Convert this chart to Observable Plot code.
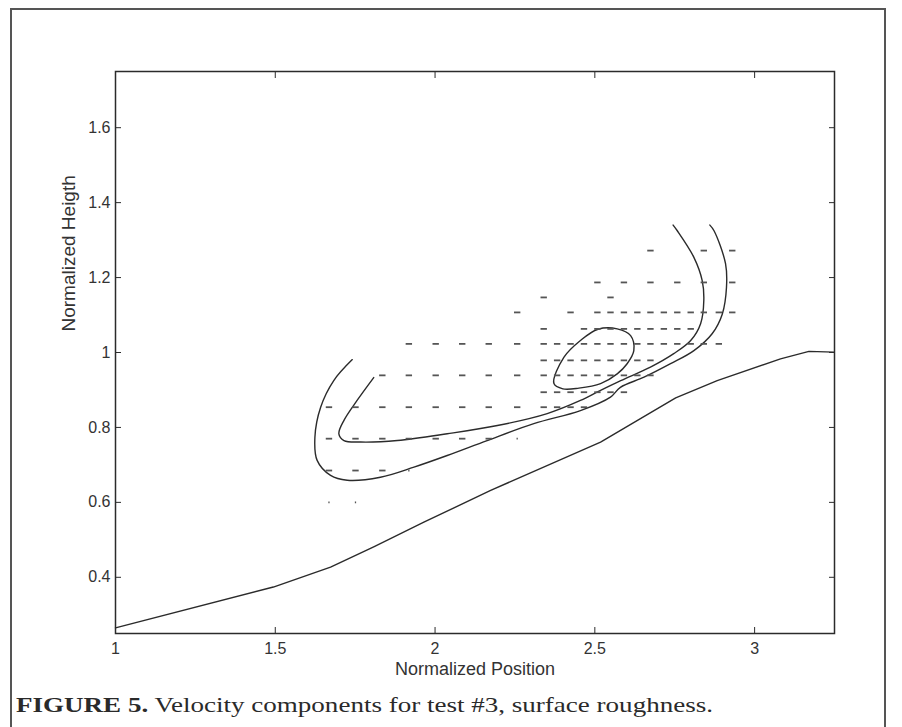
<!DOCTYPE html>
<html><head><meta charset="utf-8">
<script src="https://cdn.jsdelivr.net/npm/d3@7"></script>
<script src="https://cdn.jsdelivr.net/npm/@observablehq/plot@0.6"></script>
<style>
body{margin:0;background:#fff;}
#wrap{position:relative;width:902px;height:727px;overflow:hidden;background:#fff;}
#border{position:absolute;left:10px;top:8px;width:876px;height:780px;border:2px solid #555;box-sizing:border-box;}
#chart{position:absolute;left:0;top:0;}
#caption{position:absolute;left:16px;top:692px;line-height:26px;font-family:"Liberation Serif","Times New Roman",serif;font-size:22px;color:#2a2a2a;white-space:nowrap;transform-origin:left center;}
</style></head><body>
<div id="wrap"><div id="border"></div><div id="chart"></div>
<div id="caption"><b>FIGURE 5.</b> Velocity components for test #3, surface roughness.</div></div>
<script>
// ---- axis ticks ----
const xTicks = [1, 1.5, 2, 2.5, 3];
const yTicks = [0.4, 0.6, 0.8, 1, 1.2, 1.4, 1.6];
const xLabel = "Normalized Position";
const yLabel = "Normalized Heigth";

// ---- ground (surface) profile ----
const groundX = [1.0, 1.494, 1.673, 1.808, 1.965, 2.174, 2.518, 2.753, 2.883, 3.081, 3.17, 3.248];
const groundY = [0.265, 0.374, 0.427, 0.481, 0.547, 0.632, 0.761, 0.879, 0.925, 0.983, 1.003, 1.001];

// ---- outer contour ----
const outerX = [1.741, 1.683, 1.642, 1.624, 1.631, 1.673, 1.725, 1.829, 1.934, 2.038, 2.163, 2.309, 2.455, 2.549, 2.58, 2.654, 2.737, 2.81, 2.867, 2.899, 2.912, 2.909, 2.873, 2.86];
const outerY = [0.981, 0.925, 0.854, 0.774, 0.712, 0.672, 0.659, 0.667, 0.694, 0.725, 0.765, 0.81, 0.845, 0.881, 0.907, 0.934, 0.97, 1.005, 1.05, 1.103, 1.174, 1.237, 1.325, 1.34];

// ---- inner contour ----
const innerX = [1.808, 1.756, 1.715, 1.699, 1.715, 1.767, 1.882, 2.038, 2.195, 2.351, 2.455, 2.518, 2.581, 2.674, 2.747, 2.8, 2.831, 2.841, 2.836, 2.81, 2.758, 2.745];
const innerY = [0.933, 0.872, 0.819, 0.783, 0.765, 0.761, 0.765, 0.783, 0.805, 0.837, 0.872, 0.899, 0.925, 0.961, 0.997, 1.032, 1.077, 1.139, 1.192, 1.254, 1.325, 1.34];

// ---- small closed contour ----
const loopX = [2.372, 2.403, 2.455, 2.51, 2.57, 2.612, 2.622, 2.601, 2.57, 2.518, 2.45, 2.40];
const loopY = [0.917, 0.987, 1.032, 1.062, 1.063, 1.045, 1.005, 0.97, 0.943, 0.917, 0.905, 0.903];

// ---- velocity vectors (rows of grid points) ----
const arrowRowY = [0.60, 0.685, 0.77, 0.854, 0.894, 0.939, 0.979, 1.023, 1.063, 1.107, 1.147, 1.187, 1.272];
const arrowRowX = [
  [1.668, 1.751],
  [1.668, 1.751, 1.835, 1.918],
  [1.668, 1.751, 1.835, 1.918, 2.002, 2.085, 2.168, 2.257],
  [1.668, 1.751, 1.835, 1.918, 2.002, 2.085, 2.168, 2.257, 2.34, 2.382, 2.424, 2.466],
  [2.34, 2.382, 2.424, 2.466, 2.508, 2.549, 2.591],
  [1.835, 1.918, 2.002, 2.085, 2.168, 2.257, 2.34, 2.382, 2.424, 2.466, 2.508, 2.549, 2.591, 2.633, 2.674],
  [2.34, 2.382, 2.424, 2.466, 2.508, 2.549, 2.591, 2.633, 2.674],
  [1.918, 2.002, 2.085, 2.168, 2.257, 2.34, 2.382, 2.424, 2.466, 2.508, 2.549, 2.591, 2.633, 2.674, 2.716, 2.758, 2.8, 2.841, 2.888],
  [2.34, 2.466, 2.508, 2.549, 2.591, 2.633, 2.674, 2.716, 2.758, 2.8],
  [2.257, 2.424, 2.508, 2.549, 2.591, 2.633, 2.674, 2.716, 2.758, 2.8, 2.841, 2.888, 2.93],
  [2.34, 2.549],
  [2.508, 2.591, 2.674, 2.758, 2.841, 2.93],
  [2.674, 2.841, 2.93]
];
const arrowU = -0.02;   // horizontal velocity component (drawn length)
const dotX = [1.668, 1.751, 1.918, 2.257];
const dotY = [0.60, 0.60, 0.685, 0.77];

// build tables
const line = (xs, ys) => xs.map((x, i) => ({x, y: ys[i]}));
const ground = line(groundX, groundY);
const outer = line(outerX, outerY);
const inner = line(innerX, innerY);
const loop = line(loopX, loopY);
const dotSet = new Set(dotX.map((x, i) => x + "," + dotY[i]));
const arrows = [];
arrowRowY.forEach((y, r) => arrowRowX[r].forEach(x => {
  const u = dotSet.has(x + "," + y) ? arrowU * 0.2 : arrowU;
  arrows.push({x1: x - u / 2, x2: x + u / 2, y});
}));

const W = 902, H = 690;
const fmt = d => d === 1 || d === 2 || d === 3 ? String(d) : d.toFixed(1);
const ink = "#2b2b2b";

const chart = Plot.plot({
  width: W, height: H,
  marginLeft: 115, marginRight: W - 834, marginTop: 71, marginBottom: H - 633,
  x: {domain: [1, 3.25]},
  y: {domain: [0.25, 1.75]},
  style: {fontFamily: "'Liberation Sans', Arial, sans-serif", fontSize: "16px", color: "#333", background: "transparent"},
  marks: [
    Plot.axisX(xTicks, {anchor: "bottom", tickSize: -6, tickPadding: 15, tickFormat: fmt, label: null, stroke: ink}),
    Plot.axisX(xTicks, {anchor: "top", tickSize: -6, tickFormat: () => "", label: null, stroke: ink}),
    Plot.axisY(yTicks, {anchor: "left", tickSize: -6, tickPadding: 11, tickFormat: fmt, label: null, stroke: ink}),
    Plot.axisY(yTicks, {anchor: "right", tickSize: -6, tickFormat: () => "", label: null, stroke: ink}),
    Plot.frame({stroke: ink, strokeWidth: 1.5}),
    Plot.line(ground, {x: "x", y: "y", stroke: ink, strokeWidth: 1.4}),
    Plot.line(outer, {x: "x", y: "y", stroke: ink, strokeWidth: 1.4, curve: "catmull-rom"}),
    Plot.line(inner, {x: "x", y: "y", stroke: ink, strokeWidth: 1.4, curve: "catmull-rom"}),
    Plot.line(loop, {x: "x", y: "y", stroke: ink, strokeWidth: 1.4, curve: "catmull-rom-closed"}),
    Plot.link(arrows, {x1: "x1", x2: "x2", y1: "y", y2: "y", stroke: "#555", strokeWidth: 1.8}),
    Plot.text([xLabel], {frameAnchor: "bottom", dy: 41, fontSize: 18, fill: "#333"}),
    Plot.text([yLabel], {frameAnchor: "left", dx: -47, dy: -21, rotate: -90, fontSize: 19, fill: "#333"})
  ]
});
document.getElementById("chart").appendChild(chart);

// fit caption to its measured width in the reference
const cap = document.getElementById("caption");
const w = cap.getBoundingClientRect().width;
cap.style.transform = `scaleX(${697 / w})`;
</script>
</body></html>
